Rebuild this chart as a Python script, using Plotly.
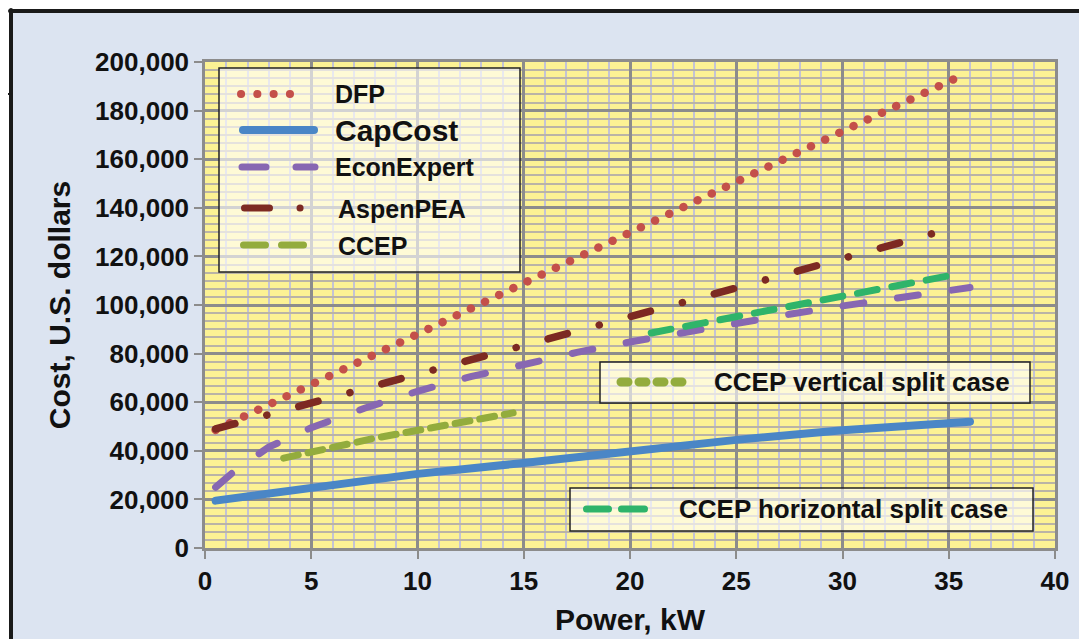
import plotly.graph_objects as go

# ---------------- data ----------------
dfp_x = [0.5, 5, 10, 15, 20, 25, 30, 35.5]
dfp_y = [48600, 67000, 88000, 109000, 130000, 150500, 171500, 194000]

capcost_x = [0.5, 5, 10, 15, 20, 25, 30, 36]
capcost_y = [19500, 25000, 30500, 35000, 40000, 44500, 48500, 52000]

econ_x = [0.5, 1.5, 3, 5, 7.5, 10, 12.5, 15, 17.5, 20, 22.5, 25, 27.5, 30, 32.5, 36]
econ_y = [25000, 32500, 41500, 49500, 57500, 64500, 70500, 75800, 80500, 84800,
          88800, 92600, 96200, 99600, 102900, 107200]

aspen_x = [0.5, 5, 10, 15, 20, 25, 30, 34.5]
aspen_y = [49000, 59500, 71500, 83000, 95200, 107000, 119000, 130000]

ccep_x = [3.7, 8, 14.5]
ccep_y = [37000, 45200, 55600]

ccep_h_x = [21, 28, 35.4]
ccep_h_y = [88500, 100300, 112700]

x_ticks = [0, 5, 10, 15, 20, 25, 30, 35, 40]
y_ticks = [0, 20000, 40000, 60000, 80000, 100000, 120000, 140000, 160000, 180000, 200000]

names = ["DFP", "CapCost", "EconExpert", "AspenPEA", "CCEP"]
box_names = ["CCEP vertical split case", "CCEP horizontal split case"]

# ---------------- styles ----------------
C_DFP = "#c4504a"
C_CAP = "#4a86c6"
C_ECON = "#8767b2"
C_ASPEN = "#7d2a22"
C_CCEP = "#93ac3d"
C_CCEPH = "#2fb46a"
FONT = "Liberation Sans, Arial, sans-serif"
TXT = "#111111"

fig = go.Figure()
fig.add_trace(go.Scatter(x=dfp_x, y=dfp_y, mode="lines", name=names[0],
                         line=dict(color=C_DFP, width=8.5, dash="0.1px,15.6px")))
fig.add_trace(go.Scatter(x=capcost_x, y=capcost_y, mode="lines", name=names[1],
                         line=dict(color=C_CAP, width=8)))
fig.add_trace(go.Scatter(x=econ_x, y=econ_y, mode="lines", name=names[2],
                         line=dict(color=C_ECON, width=7, dash="21px,34px")))
fig.add_trace(go.Scatter(x=aspen_x, y=aspen_y, mode="lines", name=names[3],
                         line=dict(color=C_ASPEN, width=7.5, dash="20px,33px,0.1px,33px")))
fig.add_trace(go.Scatter(x=ccep_x, y=ccep_y, mode="lines", name=names[4],
                         line=dict(color=C_CCEP, width=7, dash="15px,10px")))
fig.add_trace(go.Scatter(x=ccep_h_x, y=ccep_h_y, mode="lines", name=box_names[1],
                         line=dict(color=C_CCEPH, width=7, dash="20px,15px")))

# ---------------- geometry helpers (reference px -> paper) ----------------
# The page body adds an 8px offset, so the figure is drawn 8px smaller in
# margins; paper coordinates are relative to the plot area and stay the same.
OFF = 8
W, H = 1087, 639
L, R, T, B = 205, 1055, 62, 548


def fx(px):
    return (px - L) / (R - L)


def fy(py):
    return (B - py) / (B - T)


shapes = []
annos = []

# outer frame: white strips + black border
shapes.append(dict(type="rect", xref="paper", yref="paper", layer="below",
                   x0=fx(-5), x1=fx(W + 20), y0=fy(10), y1=fy(-5),
                   fillcolor="white", line=dict(width=0)))
shapes.append(dict(type="rect", xref="paper", yref="paper", layer="below",
                   x0=fx(-5), x1=fx(10), y0=fy(H + 20), y1=fy(-5),
                   fillcolor="white", line=dict(width=0)))
shapes.append(dict(type="line", xref="paper", yref="paper",
                   x0=fx(10), x1=fx(W + 20), y0=fy(11), y1=fy(11),
                   line=dict(color="#1a1a1a", width=4)))
shapes.append(dict(type="line", xref="paper", yref="paper",
                   x0=fx(11), x1=fx(11), y0=fy(10), y1=fy(H + 20),
                   line=dict(color="#1a1a1a", width=4)))
shapes.append(dict(type="line", xref="paper", yref="paper",
                   x0=fx(3), x1=fx(11), y0=fy(94), y1=fy(94),
                   line=dict(color="#1a1a1a", width=2)))


def box(x0, y0, x1, y1):
    shapes.append(dict(type="rect", xref="paper", yref="paper",
                       x0=fx(x0), x1=fx(x1), y0=fy(y1), y1=fy(y0),
                       fillcolor="rgba(255,255,255,0.62)",
                       line=dict(color="#222222", width=1.5)))


def sample(x0, x1, y, color, width, dash):
    shapes.append(dict(type="line", xref="paper", yref="paper",
                       x0=fx(x0), x1=fx(x1), y0=fy(y), y1=fy(y),
                       line=dict(color=color, width=width, dash=dash)))


def label(x, y, text, size):
    annos.append(dict(xref="paper", yref="paper", x=fx(x), y=fy(y), text=text,
                      showarrow=False, xanchor="left", yanchor="middle",
                      font=dict(family=FONT, size=size, color=TXT, weight="bold")))


# main legend
box(219, 68, 520, 272)
sample(241, 306, 94, C_DFP, 8, "0.1px,16.2px")
label(333, 94, names[0], 25)
sample(243, 314, 130, C_CAP, 8, "solid")
label(333, 130, names[1], 30)
sample(242, 315, 167, C_ECON, 7, "24px,30px")
label(333, 167, names[2], 25)
sample(244.5, 301, 208, C_ASPEN, 7, "25px,30.5px,0.1px,50px")
label(336, 209, names[3], 25)
sample(243.5, 303.5, 245, C_CCEP, 7, "22px,16px")
label(336, 246, names[4], 25)

# split-case boxes
box(600, 362, 1030, 403)
sample(621, 686, 382, C_CCEP, 9, "7px,11px")
label(712, 382, box_names[0], 26)

box(570, 488, 1033, 531)
sample(586.5, 658, 509, C_CCEPH, 7, "22px,13px,23px,13.5px,0.1px,40px")
label(677, 509, box_names[1], 26)

axis_common = dict(
    showline=True, linecolor="#8c8c8c", linewidth=2.5, mirror=True,
    showgrid=True, gridcolor="#8c8c8c", gridwidth=2.5, zeroline=False,
    ticks="outside", ticklen=8, tickwidth=2, tickcolor="#8c8c8c",
    tickfont=dict(family=FONT, size=26, color=TXT, weight="bold"),
)

fig.update_layout(
    width=W, height=H, autosize=False,
    margin=dict(l=L - OFF, r=W - (R - OFF), t=T - OFF, b=H - (B - OFF), pad=0),
    paper_bgcolor="#dce4f1", plot_bgcolor="#fcf294",
    showlegend=False,
    shapes=shapes, annotations=annos,
    xaxis=dict(range=[0, 40], tickvals=x_ticks, ticktext=[str(v) for v in x_ticks],
               minor=dict(dtick=1, showgrid=True, gridcolor="#c3c3d6", gridwidth=2, ticks=""),
               title=dict(text="Power, kW", standoff=15,
                          font=dict(family=FONT, size=30, color=TXT, weight="bold")),
               **axis_common),
    yaxis=dict(range=[0, 200000], tickvals=y_ticks, ticktext=[f"{v:,}" for v in y_ticks],
               minor=dict(tick0=0, dtick=20000 / 6, showgrid=True, gridcolor="#bab4a6",
                          gridwidth=1.5, ticks=""),
               title=dict(text="Cost, U.S. dollars", standoff=16,
                          font=dict(family=FONT, size=30, color=TXT, weight="bold")),
               **axis_common),
)

post = """
var gd = document.getElementById('{plot_id}');
function roundCaps(){
  gd.querySelectorAll('.scatterlayer path.js-line, .shapelayer path').forEach(function(p){
    p.style.strokeLinecap = 'round';
  });
}
roundCaps();
gd.on('plotly_afterplot', roundCaps);
"""

fig.write_html("out.html", post_script=post)
